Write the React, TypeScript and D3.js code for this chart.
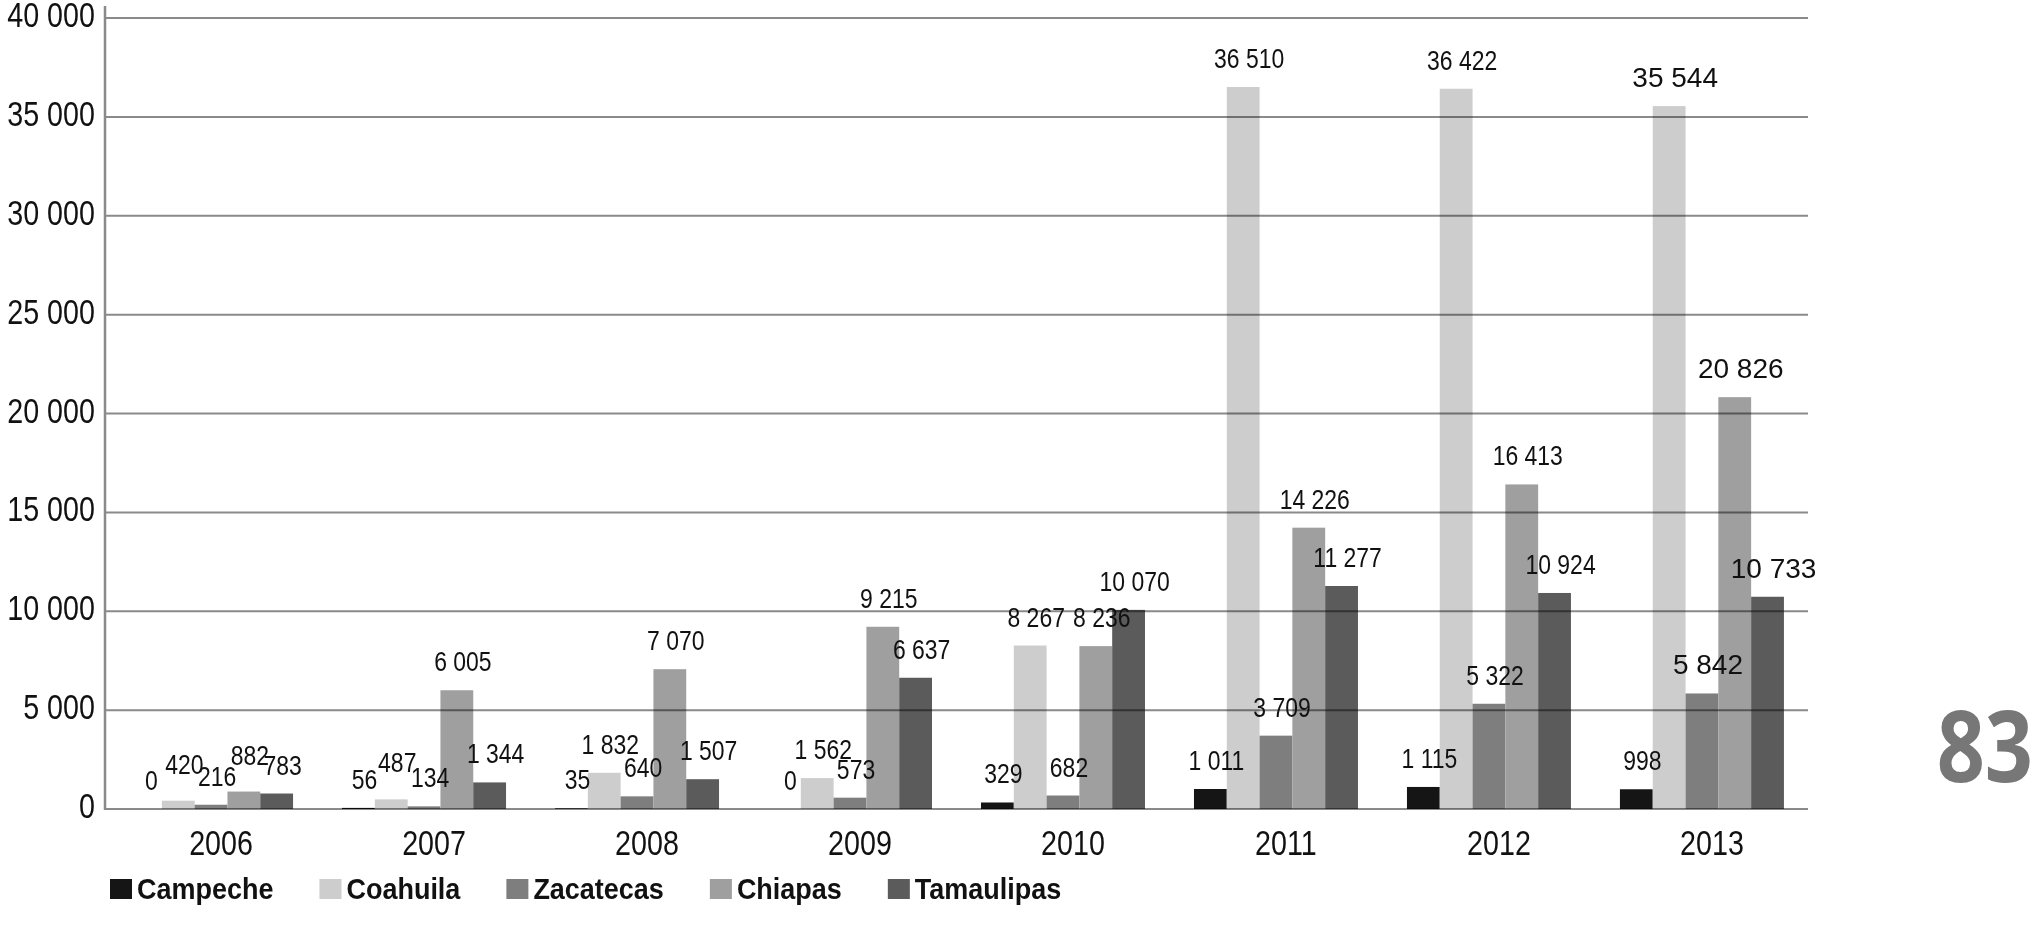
import { useEffect, useRef } from "react";
import * as d3 from "d3";

const years = ["2006", "2007", "2008", "2009", "2010", "2011", "2012", "2013"];
const states = ["Campeche", "Coahuila", "Zacatecas", "Chiapas", "Tamaulipas"];

const campeche = [0, 56, 35, 0, 329, 1011, 1115, 998];
const coahuila = [420, 487, 1832, 1562, 8267, 36510, 36422, 35544];
const zacatecas = [216, 134, 640, 573, 682, 3709, 5322, 5842];
const chiapas = [882, 6005, 7070, 9215, 8236, 14226, 16413, 20826];
const tamaulipas = [783, 1344, 1507, 6637, 10070, 11277, 10924, 10733];

const colors = ["#151515", "#cdcdcd", "#7e7e7e", "#9f9f9f", "#5b5b5b"];

// labels the original lifts a little to dodge their neighbours
const raised = new Set(["2006-Coahuila", "2006-Chiapas", "2007-Coahuila"]);

const sans = "'Liberation Sans', Arial, sans-serif";
// condensed look: regular face squeezed horizontally
const squeeze = (x: number, y: number, k = 0.82) =>
  `translate(${x},${y}) scale(${k},1)`;

const W = 2033;
const H = 934;

const App = () => {
  const ref = useRef<SVGSVGElement>(null);

  useEffect(() => {
    const svg = d3.select(ref.current);
    svg.selectAll("*").remove();

    const series = [campeche, coahuila, zacatecas, chiapas, tamaulipas];
    const rows = years.flatMap((year, i) =>
      states.map((state, s) => ({ year, state, s, value: series[s][i] })),
    );

    const left = 105;
    const right = 1808;

    const x0 = d3
      .scaleBand()
      .domain(years)
      .range([left, right])
      .paddingInner(0.23)
      .paddingOuter(0.113);
    const x1 = d3.scaleBand().domain(states).range([0, x0.bandwidth()]);
    const y = d3.scaleLinear().domain([0, 40000]).range([809, 18]);

    const fmt = (v: number) => d3.format(",")(v).replace(/,/g, " ");

    // bars
    svg
      .append("g")
      .selectAll("rect")
      .data(rows)
      .enter()
      .append("rect")
      .attr("x", (d) => x0(d.year)! + x1(d.state)!)
      .attr("y", (d) => y(d.value))
      .attr("width", x1.bandwidth())
      .attr("height", (d) => y(0) - y(d.value))
      .attr("fill", (d) => colors[d.s]);

    // grid lines, drawn over the bars as in the original
    const grid = svg.append("g").style("mix-blend-mode", "multiply");
    grid
      .selectAll("line")
      .data(y.ticks(8))
      .enter()
      .append("line")
      .attr("x1", left)
      .attr("x2", right)
      .attr("y1", (d) => y(d))
      .attr("y2", (d) => y(d))
      .attr("stroke", "#8a8a8a")
      .attr("stroke-width", 2);

    svg
      .append("line")
      .attr("x1", left)
      .attr("x2", left)
      .attr("y1", 6)
      .attr("y2", y(0) + 1)
      .attr("stroke", "#8a8a8a")
      .attr("stroke-width", 2.5);

    // y tick labels
    svg
      .append("g")
      .selectAll("text")
      .data(y.ticks(8))
      .enter()
      .append("text")
      .attr("transform", (d) => squeeze(95, y(d) + 9))
      .attr("text-anchor", "end")
      .style("font-family", sans)
      .style("font-size", "35px")
      .attr("fill", "#111")
      .text((d) => fmt(d));

    // category labels
    svg
      .append("g")
      .selectAll("text")
      .data(years)
      .enter()
      .append("text")
      .attr("transform", (d) =>
        squeeze(x0(d)! + x0.bandwidth() / 2 + 10, 855),
      )
      .attr("text-anchor", "middle")
      .style("font-family", sans)
      .style("font-size", "35px")
      .attr("fill", "#111")
      .text((d) => d);

    // value labels
    svg
      .append("g")
      .selectAll("text")
      .data(rows)
      .enter()
      .append("text")
      .attr("transform", (d) =>
        squeeze(
          x0(d.year)! + x1(d.state)! + x1.bandwidth() / 2 + 6,
          y(d.value) - 19 - (raised.has(`${d.year}-${d.state}`) ? 8 : 0),
          d.year === "2013" && d.s > 0 ? 1 : 0.82,
        ),
      )
      .attr("text-anchor", "middle")
      .style("font-family", sans)
      .style("font-size", "28px")
      .attr("fill", "#111")
      .text((d) => fmt(d.value));

    // legend
    const legend = svg.append("g");
    let lx = 110;
    states.forEach((state, s) => {
      legend
        .append("rect")
        .attr("x", lx)
        .attr("y", 879)
        .attr("width", 22)
        .attr("height", 20)
        .attr("fill", colors[s]);
      const t = legend
        .append("text")
        .attr("transform", squeeze(lx + 27, 899, 0.9))
        .style("font-family", sans)
        .style("font-weight", "bold")
        .style("font-size", "30px")
        .attr("fill", "#111")
        .text(state);
      const w = (t.node() as SVGTextElement).getComputedTextLength() * 0.9;
      lx += 27 + w + 46;
    });

    // page number
    svg
      .append("text")
      .attr("transform", squeeze(2033, 782, 0.86))
      .attr("text-anchor", "end")
      .style("font-family", "'Open Sans', 'Liberation Sans', sans-serif")
      .style("font-weight", "bold")
      .style("font-size", "98px")
      .attr("fill", "#777")
      .text("83");
  }, []);

  return (
    <svg
      ref={ref}
      width={W}
      height={H}
      style={{ position: "absolute", left: 0, top: 0, background: "#fff" }}
    />
  );
};

export default App;
